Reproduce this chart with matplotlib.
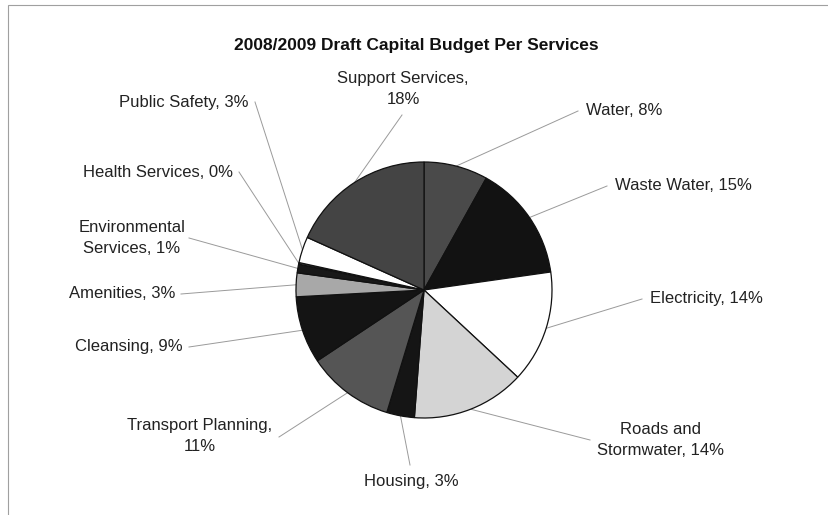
import numpy as np
import matplotlib
matplotlib.use("Agg")
import matplotlib.pyplot as plt
from matplotlib.patches import Rectangle

plt.rcParams['font.family'] = ['Liberation Sans', 'DejaVu Sans']

# slices, clockwise from 12 o'clock
services = ['Water', 'Waste Water', 'Electricity', 'Roads and Stormwater', 'Housing',
            'Transport Planning', 'Cleansing', 'Amenities', 'Environmental Services',
            'Health Services', 'Public Safety', 'Support Services']
shares = [8.1, 14.7, 14.2, 14.3, 3.5, 11.0, 8.5, 3.0, 1.1, 0.2, 3.3, 18.3]
labels = ['Water, 8%', 'Waste Water, 15%', 'Electricity, 14%', 'Roads and\nStormwater, 14%',
          'Housing, 3%', 'Transport Planning,\n11%', 'Cleansing, 9%', 'Amenities, 3%',
          'Environmental\nServices, 1%', 'Health Services, 0%', 'Public Safety, 3%',
          'Support Services,\n18%']
colors = ['#4a4a4a', '#121212', '#ffffff', '#d4d4d4', '#151515', '#555555',
          '#141414', '#a8a8a8', '#181818', '#707070', '#ffffff', '#444444']

# label placement in pixel coords (y from top): text x, text y, anchor,
# leader start on the label side
W, H = 829, 515
label_pos = [(586, 110, 'left', 578, 111),
             (615, 185, 'left', 607, 186),
             (650, 298, 'left', 642, 299),
             (661, 440, 'center', 590, 440),
             (411, 482, 'center', 410, 465),
             (200, 436, 'center', 279, 437),
             (183, 347, 'right', 189, 347),
             (175, 294, 'right', 181, 294),
             (132, 238, 'center', 189, 238),
             (233, 172, 'right', 239, 172),
             (249, 102, 'right', 255, 102),
             (403, 89, 'center', 402, 115)]

cx, cy, r = 424, H - 290, 128

fig = plt.figure(figsize=(W / 100, H / 100), dpi=100)
ax = fig.add_axes([0, 0, 1, 1])

wedges, _ = ax.pie(shares, colors=colors, startangle=90, counterclock=False,
                   center=(cx, cy), radius=r, frame=True,
                   wedgeprops=dict(edgecolor='#111111', linewidth=0.9))
ax.set_xlim(0, W)
ax.set_ylim(0, H)
ax.set_aspect('equal')
ax.axis('off')

for w, lab, (tx, ty, ha, lx, ly) in zip(wedges, labels, label_pos):
    mid = np.deg2rad((w.theta1 + w.theta2) / 2)
    ex, ey = cx + r * np.cos(mid), cy + r * np.sin(mid)
    ax.plot([lx, ex], [H - ly, ey], color='#9a9a9a', lw=0.7, zorder=0)
    ax.text(tx, H - ty, lab, ha=ha, va='center', fontsize=12, color='#222222',
            linespacing=1.5)

ax.text(416, H - 45, '2008/2009 Draft Capital Budget Per Services',
        ha='center', va='center', fontsize=12.5, fontweight='bold', color='#111111')

# chart border from the scan
fig.patches.append(Rectangle((8 / W, -0.01), 1.0, (H - 5) / H + 0.01,
                             transform=fig.transFigure, fill=False,
                             edgecolor='#a0a0a0', lw=0.8))

fig.savefig('out.png', dpi=100, facecolor='white')
